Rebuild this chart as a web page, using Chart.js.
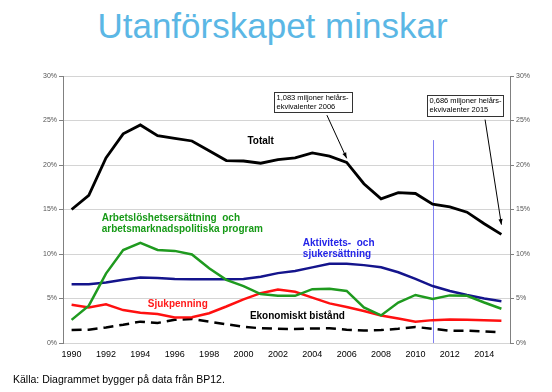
<!DOCTYPE html>
<html lang="sv">
<head>
<meta charset="utf-8">
<script src="https://cdn.jsdelivr.net/npm/chart.js@4"></script>
<style>
  body { margin: 0; background: #fff; width: 552px; height: 392px; overflow: hidden; position: relative; font-family: "Liberation Sans", Arial, sans-serif; }
  #rubrik { position: absolute; left: 0; width: 545px; top: 1px; text-align: center; color: #5bb7e5; font-size: 35px; line-height: 50px; margin: 0; font-weight: normal; }
  #kalla { position: absolute; left: 13px; top: 373px; font-size: 10.5px; color: #000; }
  #wrap { position: absolute; left: 0; top: 0; width: 552px; height: 392px; }
</style>
</head>
<body>
<h1 id="rubrik">Utanförskapet minskar</h1>
<div id="wrap"><canvas id="chartCanvas"></canvas></div>
<div id="kalla">Källa: Diagrammet bygger på data från BP12.</div>
<script>
const ar = ['1990','1991','1992','1993','1994','1995','1996','1997','1998','1999','2000','2001','2002',
  '2003','2004','2005','2006','2007','2008','2009','2010','2011','2012','2013','2014','2015'];

const totalt = [15.0, 16.6, 20.8, 23.5, 24.5, 23.3, 23.0, 22.7, 21.6, 20.5, 20.45, 20.2, 20.6,
  20.8, 21.35, 21.0, 20.3, 17.9, 16.2, 16.9, 16.8, 15.6, 15.3, 14.7, 13.4, 12.2];
const arbetsloshet = [2.6, 4.2, 7.8, 10.45, 11.25, 10.45, 10.35, 9.95, 8.4, 7.1, 6.4, 5.5, 5.3,
  5.3, 6.05, 6.1, 5.85, 4.0, 3.1, 4.55, 5.4, 4.95, 5.35, 5.3, 4.55, 3.85];
const aktivitet = [6.6, 6.6, 6.8, 7.1, 7.35, 7.3, 7.2, 7.15, 7.15, 7.15, 7.2, 7.45, 7.85,
  8.1, 8.5, 8.9, 8.9, 8.75, 8.5, 7.95, 7.2, 6.4, 5.85, 5.4, 5.0, 4.7];
const sjukpenning = [4.3, 4.0, 4.35, 3.7, 3.4, 3.25, 2.87, 2.9, 3.35, 4.1, 4.9, 5.6, 6.0,
  5.75, 5.1, 4.45, 4.05, 3.6, 3.1, 2.75, 2.4, 2.57, 2.65, 2.6, 2.55, 2.5];
const bistand = [1.45, 1.5, 1.75, 2.05, 2.4, 2.25, 2.6, 2.7, 2.4, 2.1, 1.83, 1.65, 1.6,
  1.57, 1.63, 1.65, 1.5, 1.4, 1.45, 1.6, 1.8, 1.6, 1.38, 1.38, 1.3, 1.2];

const yTicks = [0, 5, 10, 15, 20, 25, 30];

// etiketter i diagrammet: [text, färg, index (år), värde (%)]
const etiketter = [
  [['Totalt'], '#000000', 11.0, 22.65, 'center'],
  [['Arbetslöshetsersättning  och', 'arbetsmarknadspolitiska program'], '#179a17', 1.75, 14.0, 'left'],
  [['Aktivitets-  och', 'sjukersättning'], '#2424e8', 13.45, 11.25, 'left'],
  [['Sjukpenning'], '#ff1a1a', 4.43, 4.4, 'left'],
  [['Ekonomiskt bistånd'], '#000000', 10.37, 2.95, 'left']
];

// rutor med pil: text, ruta (index, %), pilens start och spets
const rutor = [
  { text: ['1,083 miljoner helårs-', 'ekvivalenter 2006'], x0: 11.76, y0: 28.15, x1: 16.3, y1: 25.9, fran: [14.85, 25.6], till: [16, 20.75] },
  { text: ['0,686 miljoner helårs-', 'ekvivalenter 2015'], x0: 20.7, y0: 27.9, x1: 25.1, y1: 25.55, fran: [24.05, 25.1], till: [25, 13.3] }
];

const markerLinje = { index: 21, topp: 22.8 };

const extraRitning = {
  id: 'extraRitning',
  beforeDatasetsDraw(chart) {
    const { ctx, scales: { x, y } } = chart;
    // tunn lodrät linje vid 2011
    ctx.save();
    ctx.strokeStyle = '#8080f0';
    ctx.lineWidth = 1;
    const px = Math.round(x.getPixelForValue(markerLinje.index)) + 0.5;
    ctx.beginPath();
    ctx.moveTo(px, y.getPixelForValue(markerLinje.topp));
    ctx.lineTo(px, y.getPixelForValue(0));
    ctx.stroke();
    ctx.restore();
  },
  afterDatasetsDraw(chart) {
    const { ctx, scales: { x, y } } = chart;
    ctx.save();
    ctx.font = 'bold 10px "Liberation Sans", Arial, sans-serif';
    ctx.textBaseline = 'middle';
    etiketter.forEach(([rader, farg, xi, yv, align]) => {
      ctx.fillStyle = farg;
      ctx.textAlign = align;
      rader.forEach((rad, i) => {
        ctx.fillText(rad, x.getPixelForValue(xi), y.getPixelForValue(yv) + i * 11);
      });
    });

    rutor.forEach((r) => {
      const l = Math.round(x.getPixelForValue(r.x0)) + 0.5;
      const t = Math.round(y.getPixelForValue(r.y0)) + 0.5;
      const rr = Math.round(x.getPixelForValue(r.x1)) + 0.5;
      const b = Math.round(y.getPixelForValue(r.y1)) + 0.5;
      ctx.fillStyle = '#fff';
      ctx.fillRect(l, t, rr - l, b - t);
      ctx.strokeStyle = '#333';
      ctx.lineWidth = 1;
      ctx.strokeRect(l, t, rr - l, b - t);
      ctx.fillStyle = '#000';
      ctx.font = '7.5px "Liberation Sans", Arial, sans-serif';
      ctx.textAlign = 'left';
      r.text.forEach((rad, i) => ctx.fillText(rad, l + 2, t + 5.5 + i * 9));

      // pil
      const sx = x.getPixelForValue(r.fran[0]), sy = y.getPixelForValue(r.fran[1]);
      const ex = x.getPixelForValue(r.till[0]), ey = y.getPixelForValue(r.till[1]);
      ctx.strokeStyle = '#000';
      ctx.lineWidth = 1;
      ctx.beginPath();
      ctx.moveTo(sx, sy);
      ctx.lineTo(ex, ey);
      ctx.stroke();
      const vinkel = Math.atan2(ey - sy, ex - sx);
      ctx.fillStyle = '#000';
      ctx.beginPath();
      ctx.moveTo(ex, ey);
      ctx.lineTo(ex - 6 * Math.cos(vinkel - 0.35), ey - 6 * Math.sin(vinkel - 0.35));
      ctx.lineTo(ex - 6 * Math.cos(vinkel + 0.35), ey - 6 * Math.sin(vinkel + 0.35));
      ctx.closePath();
      ctx.fill();
    });
    ctx.restore();
  }
};

function serie(data, farg, bredd, streck) {
  return {
    data,
    borderColor: farg,
    borderWidth: bredd,
    borderDash: streck || [],
    pointRadius: 0,
    tension: 0,
    fill: false
  };
}

const tickFont = { family: '"Liberation Sans", Arial, sans-serif', size: 7 };

new Chart(document.getElementById('chartCanvas'), {
  type: 'line',
  data: {
    labels: ar,
    datasets: [
      serie(totalt, '#000000', 2.8),
      serie(arbetsloshet, '#1f9a1f', 2.5),
      serie(aktivitet, '#14148c', 2.5),
      serie(sjukpenning, '#ff1010', 2.5),
      serie(bistand, '#000000', 2.5, [10, 6])
    ]
  },
  options: {
    responsive: true,
    maintainAspectRatio: false,
    animation: false,
    layout: { padding: { top: 76, left: 0, right: 0, bottom: 0 } },
    plugins: { legend: { display: false }, tooltip: { enabled: false } },
    scales: {
      x: {
        offset: true,
        afterFit: (s) => { s.height = 49; },
        grid: { display: false, drawTicks: false },
        border: { display: false },
        ticks: {
          autoSkip: false,
          maxRotation: 0,
          padding: 6,
          color: '#000',
          font: { family: '"Liberation Sans", Arial, sans-serif', size: 9 },
          callback: (v, i) => (i % 2 === 0 ? ar[i] : '')
        }
      },
      y: {
        position: 'left',
        min: 0,
        max: 30,
        afterFit: (s) => { s.width = 63; },
        afterBuildTicks: (s) => { s.ticks = yTicks.map((v) => ({ value: v })); },
        grid: { color: '#d4d4d4', lineWidth: 1, tickLength: 4, tickColor: '#808080' },
        border: { display: true, color: '#808080', width: 1 },
        ticks: { color: '#555', font: tickFont, padding: 2, callback: (v) => v + '%' }
      },
      y2: {
        position: 'right',
        min: 0,
        max: 30,
        afterFit: (s) => { s.width = 42; },
        afterBuildTicks: (s) => { s.ticks = yTicks.map((v) => ({ value: v })); },
        grid: { drawOnChartArea: false, tickLength: 4, tickColor: '#808080' },
        border: { display: true, color: '#808080', width: 1 },
        ticks: { color: '#555', font: tickFont, padding: 2, callback: (v) => v + '%' }
      }
    }
  },
  plugins: [extraRitning]
});
</script>
</body>
</html>
